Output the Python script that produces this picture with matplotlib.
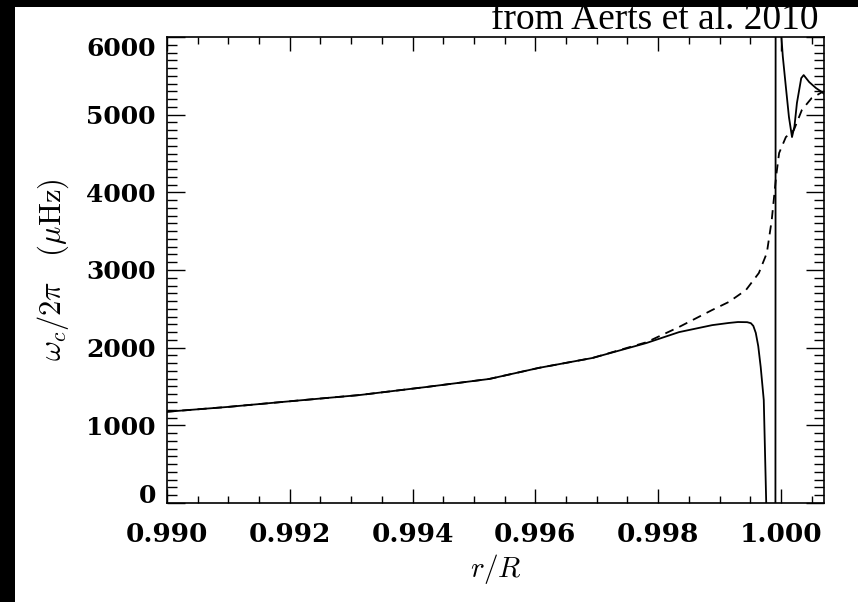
import matplotlib
matplotlib.use("Agg")
import matplotlib.pyplot as plt
from matplotlib.patches import Rectangle
from matplotlib.ticker import MultipleLocator

plt.rcParams["mathtext.fontset"] = "cm"

# model with full atmosphere (solid) and isothermal approximation (dashed)
r_solid = [0.99000, 0.99098, 0.99205, 0.99314, 0.99423, 0.99525, 0.99606,
           0.99693, 0.99781, 0.99834, 0.99888, 0.99915, 0.99930, 0.99945,
           0.99951, 0.99955, 0.99959, 0.99963, 0.99967, 0.99972, 0.99976,
           0.99978, 0.99990, 0.99992, 0.99998, 1.00003, 1.00008, 1.00013,
           1.00018, 1.00022, 1.00026, 1.00033, 1.00037, 1.00046, 1.00057,
           1.00067, 1.00070]
w_solid = [1175, 1236, 1313, 1390, 1494, 1597, 1740,
           1867, 2060, 2200, 2290, 2318, 2330, 2328,
           2315, 2280, 2190, 2020, 1751, 1326, 0,
           -3000, -20000, 20000, 6300, 5750, 5356, 4970,
           4712, 4850, 5150, 5470, 5510, 5420, 5343,
           5290, 5270]

r_dashed = [0.99000, 0.99098, 0.99205, 0.99314, 0.99423, 0.99525, 0.99606,
            0.99693, 0.99781, 0.99834, 0.99888, 0.99915, 0.99943, 0.99964,
            0.99977, 0.99985, 0.99992, 0.99997, 1.00008, 1.00021, 1.00034,
            1.00050, 1.00067, 1.00070]
w_dashed = [1175, 1236, 1313, 1390, 1494, 1597, 1740,
            1867, 2070, 2266, 2485, 2588, 2742, 2961,
            3219, 3644, 4197, 4506, 4712, 4802, 5060,
            5214, 5290, 5300]

x_ticks = [0.990, 0.992, 0.994, 0.996, 0.998, 1.000]
x_labels = ["0.990", "0.992", "0.994", "0.996", "0.998", "1.000"]
y_ticks = [0, 1000, 2000, 3000, 4000, 5000, 6000]
y_labels = ["0", "1000", "2000", "3000", "4000", "5000", "6000"]

fig = plt.figure(figsize=(8.58, 6.02), dpi=100)
fig.patch.set_facecolor("white")
ax = fig.add_axes([0.1946, 0.1645, 0.7657, 0.774])

ax.plot(r_solid, w_solid, color="black", linewidth=1.3)
ax.plot(r_dashed, w_dashed, color="black", linewidth=1.3, dashes=(5, 3.5))

ax.set_xlim(0.990, 1.0007)
ax.set_ylim(0, 6000)

ax.set_xticks(x_ticks)
ax.set_xticklabels(x_labels, fontdict={"family": "DejaVu Serif", "weight": "bold", "size": 19})
ax.set_yticks(y_ticks)
ax.set_yticklabels(y_labels, fontdict={"family": "DejaVu Serif", "weight": "bold", "size": 18})
ax.xaxis.set_minor_locator(MultipleLocator(0.0005))
ax.yaxis.set_minor_locator(MultipleLocator(100))

ax.tick_params(which="both", direction="in", top=True, right=True,
               width=1, color="black")
ax.tick_params(axis="x", which="major", length=10, pad=14)
ax.tick_params(axis="x", which="minor", length=5)
ax.tick_params(axis="y", which="major", length=13, pad=8)
ax.tick_params(axis="y", which="minor", length=7)

# IDL keeps the end labels inside the axis range
ylbls = ax.get_yticklabels()
ylbls[0].set_va("baseline")
ylbls[-1].set_va("top")

for s in ax.spines.values():
    s.set_linewidth(1.2)

ax.set_xlabel(r"$r/R$", fontsize=21, labelpad=3)
ax.set_ylabel(r"$\omega_c/2\pi\ \ \ (\mu\mathrm{Hz})$", fontsize=22, labelpad=11)

fig.text(0.9534, 0.951, "from Aerts et al. 2010", family="Liberation Serif",
         fontsize=27, ha="right", va="baseline", zorder=3)

# black frame strips from the screenshot
fig.patches.append(Rectangle((0, 0), 15 / 858, 1, transform=fig.transFigure,
                             facecolor="black", edgecolor="none", zorder=10))
fig.patches.append(Rectangle((0, 1 - 7 / 602), 1, 7 / 602, transform=fig.transFigure,
                             facecolor="black", edgecolor="none", zorder=10))

fig.savefig("out.png", dpi=100)
plt.close(fig)
